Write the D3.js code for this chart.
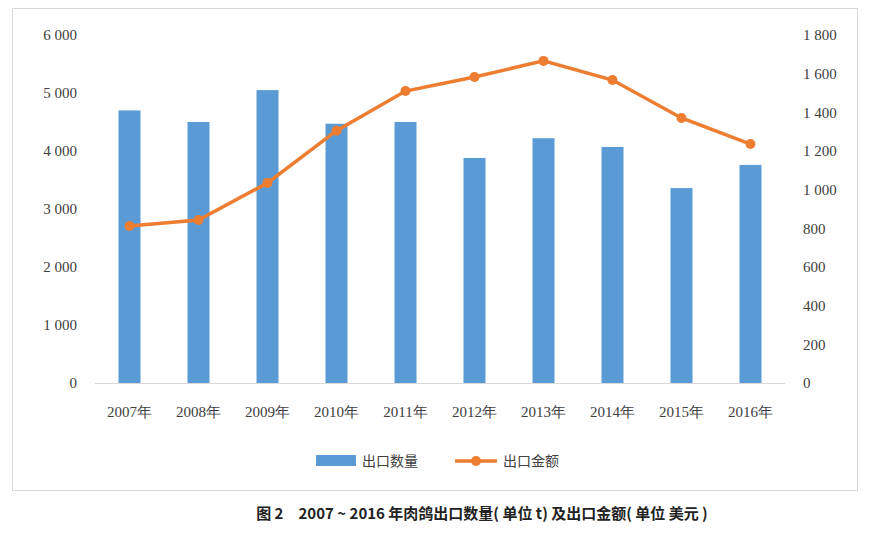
<!DOCTYPE html>
<html><head><meta charset="utf-8">
<script src="https://cdn.jsdelivr.net/npm/d3@7/dist/d3.min.js"></script>
<style>body{margin:0;background:#fff}</style></head>
<body><svg id="c" width="881" height="545"></svg>
<script>
const years=["2007年","2008年","2009年","2010年","2011年","2012年","2013年","2014年","2015年","2016年"];
const quantity=[4700,4500,5050,4470,4500,3880,4220,4070,3360,3760];
const amount=[812,843,1035,1305,1510,1583,1666,1567,1371,1236];
const leftTicks=[0,1000,2000,3000,4000,5000,6000];
const rightTicks=[0,200,400,600,800,1000,1200,1400,1600,1800];
const fmt=v=>v>=1000?d3.format(",")(v).replace(","," "):String(v);
const svg=d3.select("#c");
const serif="'Liberation Serif','DejaVu Serif',serif";
const cjk="'Noto Sans CJK SC',sans-serif";
svg.append("rect").attr("x",12.5).attr("y",8.5).attr("width",845).attr("height",482).attr("fill","none").attr("stroke","#d9d9d9");
const x=d3.scaleBand().domain(years).range([95,785]);
const yL=d3.scaleLinear().domain([0,6000]).range([383,35]);
const yR=d3.scaleLinear().domain([0,1800]).range([383,35]);
svg.append("line").attr("x1",95).attr("x2",785).attr("y1",383.5).attr("y2",383.5).attr("stroke","#d9d9d9");
svg.selectAll(".b").data(quantity).join("rect").attr("x",(d,i)=>x(years[i])+x.bandwidth()/2-11).attr("width",22)
 .attr("y",d=>yL(d)).attr("height",d=>383-yL(d)).attr("fill","#5b9bd5");
const line=d3.line().x((d,i)=>x(years[i])+x.bandwidth()/2).y(d=>yR(d));
svg.append("path").attr("d",line(amount)).attr("fill","none").attr("stroke","#ed7d31").attr("stroke-width",3.5);
svg.selectAll(".p").data(amount).join("circle").attr("cx",(d,i)=>x(years[i])+x.bandwidth()/2).attr("cy",d=>yR(d)).attr("r",5).attr("fill","#ed7d31");
const gl=svg.append("g").attr("transform","translate(80,0)").call(d3.axisLeft(yL).tickValues(leftTicks).tickFormat(fmt).tickSize(0));
const gr=svg.append("g").attr("transform","translate(800,0)").call(d3.axisRight(yR).tickValues(rightTicks).tickFormat(fmt).tickSize(0));
const gx=svg.append("g").attr("transform","translate(0,400)").call(d3.axisBottom(x).tickSize(0));
[gl,gr,gx].forEach(g=>{g.select(".domain").remove();g.selectAll("text").attr("font-family",serif).attr("font-size",15).attr("fill","#404040");});
gx.selectAll("text").attr("dy","0.9em");
const lg=svg.append("g").attr("transform","translate(0,461)");
lg.append("rect").attr("x",316).attr("y",-6).attr("width",40).attr("height",11).attr("fill","#5b9bd5");
lg.append("text").attr("x",362).attr("y",5).text("出口数量").attr("font-family",cjk).attr("font-size",14).attr("fill","#404040");
lg.append("line").attr("x1",455).attr("x2",497).attr("y1",0).attr("y2",0).attr("stroke","#ed7d31").attr("stroke-width",3.5);
lg.append("circle").attr("cx",476).attr("cy",0).attr("r",5).attr("fill","#ed7d31");
lg.append("text").attr("x",503).attr("y",5).text("出口金额").attr("font-family",cjk).attr("font-size",14).attr("fill","#404040");
svg.append("text").attr("x",482).attr("y",519).attr("text-anchor","middle").attr("font-family",cjk).attr("font-weight","bold").attr("font-size",15).attr("fill","#222")
 .text("图 2　2007 ~ 2016 年肉鸽出口数量( 单位  t) 及出口金额( 单位  美元 )");
</script></body></html>
